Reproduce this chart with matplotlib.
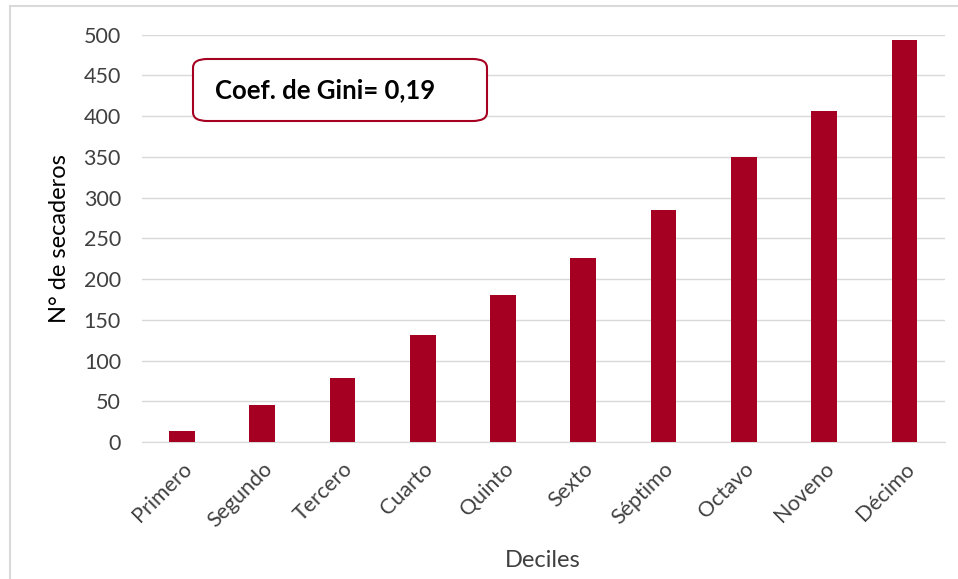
import matplotlib.pyplot as plt
from matplotlib.patches import FancyBboxPatch, Rectangle

deciles = ['Primero', 'Segundo', 'Tercero', 'Cuarto', 'Quinto',
           'Sexto', 'Séptimo', 'Octavo', 'Noveno', 'Décimo']
secaderos = [14, 45, 79, 131, 180, 226, 285, 350, 406, 493]
yticks = [0, 50, 100, 150, 200, 250, 300, 350, 400, 450, 500]
gini_text = 'Coef. de Gini= 0,19'

bar_color = '#A50021'
plt.rcParams['font.family'] = ['Lato', 'DejaVu Sans']

fig = plt.figure(figsize=(9.58, 5.79), dpi=100)
# light frame around the chart area
fig.patches.append(Rectangle((10 / 958, -0.1), 1.0, 1.1 - 6 / 579,
                             transform=fig.transFigure, fill=False,
                             edgecolor='#D9D9D9', linewidth=1.5))

ax = fig.add_axes([0.148, 0.2366, 0.838, 0.7034])
ax.bar(range(len(deciles)), secaderos, width=0.32, color=bar_color, zorder=3)
ax.set_xlim(-0.5, len(deciles) - 0.5)
ax.set_ylim(0, 500)
ax.set_yticks(yticks)
ax.set_xticks(range(len(deciles)))
ax.set_xticklabels(deciles, rotation=45, ha='right', rotation_mode='anchor',
                   fontsize=15.5, color='#404040')
ax.tick_params(axis='y', length=0, pad=15, labelsize=15.5, labelcolor='#404040')
ax.tick_params(axis='x', length=0, pad=12)
ax.grid(axis='y', color='#D9D9D9', linewidth=1, zorder=0)
for s in ['top', 'right', 'left']:
    ax.spines[s].set_visible(False)
ax.spines['bottom'].set_color('#D9D9D9')
ax.set_ylabel('N° de secaderos', fontsize=17, color='#000000', labelpad=10)
ax.set_xlabel('Deciles', fontsize=17, color='#404040', labelpad=14)

# Gini box
box = FancyBboxPatch((193 / 958, 1 - 121 / 579), 294 / 958, 62 / 579,
                     boxstyle='round,pad=0,rounding_size=0.015',
                     transform=fig.transFigure, facecolor='white',
                     edgecolor=bar_color, linewidth=1.5, zorder=5)
fig.patches.append(box)
fig.text(215 / 958, 1 - 90 / 579, gini_text, fontsize=18.5, fontweight='bold',
         va='center', ha='left', color='#000000', zorder=6)

fig.savefig('out.png', dpi=100)
